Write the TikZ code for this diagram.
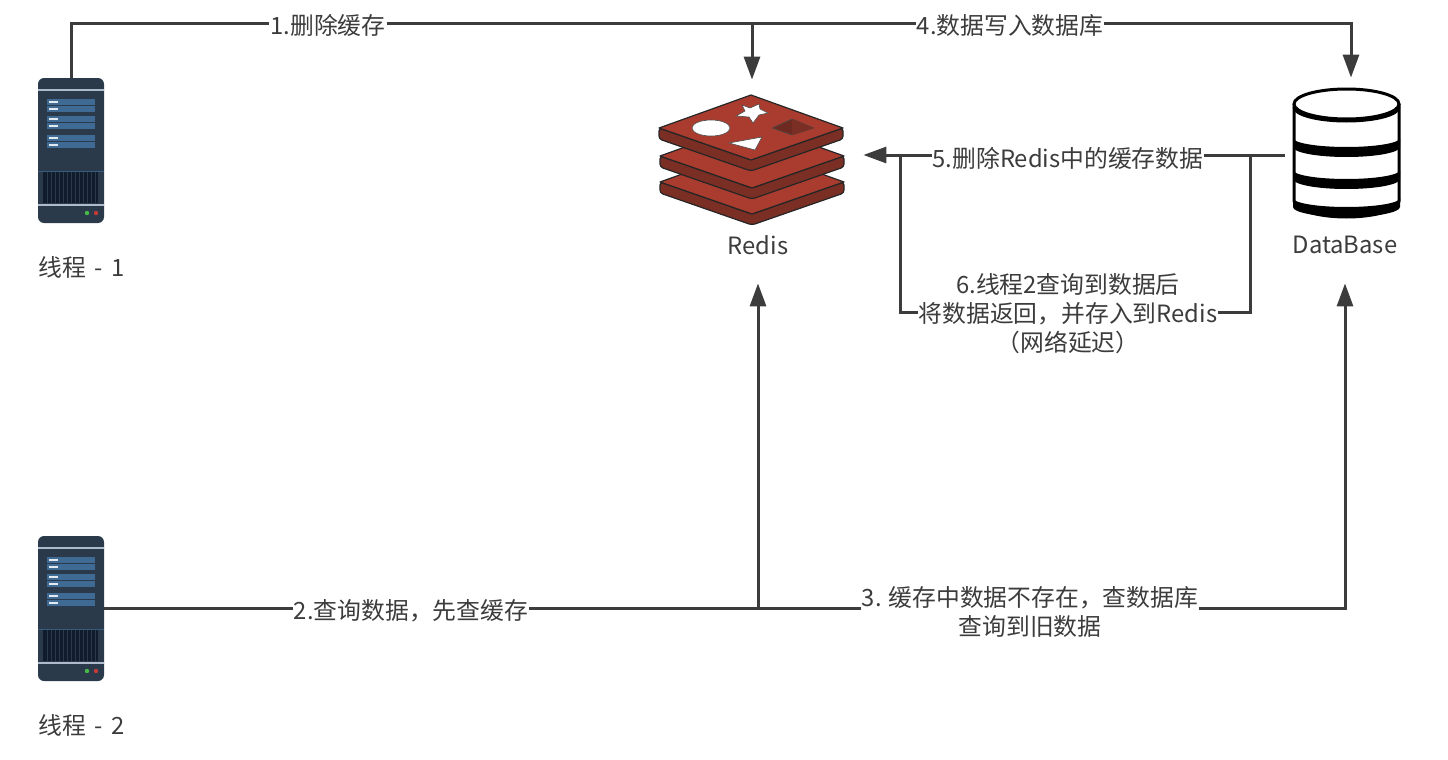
\documentclass[tikz,border=0pt]{standalone}
\usepackage{fontspec}
\setmainfont{Noto Sans CJK SC}
\usetikzlibrary{arrows.meta, backgrounds}

\definecolor{ink}{HTML}{3C3C3C}
\definecolor{serverbody}{HTML}{2B3A4B}
\definecolor{serverline}{HTML}{AEBBCB}
\definecolor{serverrow}{HTML}{3F6A94}
\definecolor{servervent}{HTML}{101C2B}
\definecolor{redisface}{HTML}{A93C2E}
\definecolor{redisside}{HTML}{7A2E24}
\definecolor{redisdark}{HTML}{6E2A20}

\tikzset{
	link/.style={draw=ink, line width=1.5pt},
	flow/.style={link, -{Triangle[length=11.5pt, width=8pt]}},
	lab/.style={fill=white, text=ink, font=\fontsize{11.9}{14.5}\selectfont,
		inner xsep=0.5pt, inner ysep=0pt, align=center},
	caption/.style={text=ink, font=\fontsize{11.9}{14.5}\selectfont\spaceskip 4.4pt\relax, inner sep=0},
	iconbox/.style={inner sep=0, minimum width=#1},
	pics/server/.style={code={
		\fill [serverbody, rounded corners=3pt] (0,0) rectangle (66,145);
		\fill [serverline] (0,11) rectangle (66,13);
		\fill [serverline] (0,126) rectangle (66,128);
		\fill [serverrow!70!serverbody] (0,93) rectangle (66,94);
		% Rows
		\foreach \y in {21,28,38,45,57,64}{
			\fill [serverrow] (9,\y) rectangle (57,\y+5.5);
			\fill [white!85!serverrow] (11,\y+2) rectangle (20,\y+3.5);
		}
		% Vents
		\fill [servervent] (5,94) rectangle (60,125);
		\foreach \x in {1,...,13}{
			\fill [serverbody] (5+\x*4,94) rectangle (6+\x*4,125);
		}
		% Lights
		\fill [green!45!gray] (49,135) circle [radius=2.2];
		\fill [red!55!gray] (58,135) circle [radius=2.2];
	}},
	pics/redislayer/.style={code={
		\fill [redisside, draw=black!85, line width=0.6pt, line join=round, rounded corners=1.5pt]
			(-92,0) -- (0,32) -- (92,0) -- (92,11) -- (0,43) -- (-92,11) -- cycle;
		\fill [redisface, draw=black!85, line width=0.6pt, line join=round]
			(-92,0) -- (0,-33) -- (92,0) -- (0,32) -- cycle;
	}},
}

\begin{document}
\begin{tikzpicture}[x=0.5pt, y=-0.5pt]
	\useasboundingbox (0,0) rectangle (1448,760);
	
	% Icon places
	\node (thread1) [iconbox=33pt, minimum height=72.5pt] at (71,150.5) {};
	\node (thread2) [iconbox=33pt, minimum height=72.5pt] at (71,608.5) {};
	\node (redis)   [iconbox=106pt, minimum height=101.5pt] at (757,181.5) {};
	\node (db)      [iconbox=60pt, minimum height=102.5pt] at (1345,180.5) {};
	
	% Captions
	\node (cap1) [caption, anchor=west] at (38,267) {线程 - 1};
	\node (cap2) [caption, anchor=west] at (38,725) {线程 - 2};
	\node (capredis) [caption] at (758,245) {Redis};
	\node (capdb) [caption] at (1345,245) {DataBase};
	
	% Labels
	\node (lab1) [lab] at (328,25) {1.删除缓存};
	\node (lab2) [lab] at (411,611) {2.查询数据，先查缓存};
	\node (lab3) [lab] at (1030,612) {3. 缓存中数据不存在，查数据库\\查询到旧数据};
	\node (lab4) [lab] at (1010,26) {4.数据写入数据库};
	\node (lab5) [lab] at (1068,158) {5.删除Redis中的缓存数据};
	\node (lab6) [lab] at (1068,314) {6.线程2查询到数据后\\将数据返回，并存入到Redis\\（网络延迟）};
	
	% Joins
	\coordinate (topjoin) at (752,23);
	\coordinate (lowjoin) at (758,608);
	\coordinate (backright) at (1250,155);
	\coordinate (backleft) at (900,155);
	\coordinate (backlow) at (1068,312);
	
	% Links
	\begin{scope}[on background layer]
		\draw [link] (thread1.north) |- (topjoin);
		\draw [flow] (topjoin) -- ([xshift=-2.5pt]redis.north);
		\draw [flow] (topjoin) -| ([xshift=3pt]db.north);
		\draw [flow] (thread2.east) -| ([xshift=0.5pt]redis.south);
		\draw [flow] (lowjoin) -| (db.south);
		\draw [flow] ([yshift=12.75pt]db.west) -- ([yshift=13.25pt]redis.east);
		\draw [link] (backright) |- (backlow) -| (backleft);
	\end{scope}
	
	% Servers
	\pic at (38,78) {server};
	\pic at (38,536) {server};
	
	% Redis
	\pic at (752,182) {redislayer};
	\pic at (752,156) {redislayer};
	\pic at (751,128) {redislayer};
	\fill [white, draw=black!70, line width=0.3pt] (711,128) ellipse [x radius=19, y radius=8];
	\fill [white, draw=black!70, line width=0.3pt]
		(759,104) -- (760,109) -- (768,113) -- (759,115) -- (753,123) --
		(749,117) -- (736,116) -- (745,111) -- (742,105) -- (750,108) -- cycle;
	\fill [white, draw=black!70, line width=0.3pt] (729,143) -- (762,137) -- (755,150) -- cycle;
	\fill [redisdark, draw=black!70, line width=0.3pt] (772,128) -- (792,119) -- (814,128) -- (792,135) -- cycle;
	\fill [redisside] (792,119) -- (814,128) -- (792,135) -- cycle;
	
	% Database
	\draw [black, line width=1.5pt, fill=white]
		(1294,104) -- (1294,201) arc [start angle=180, end angle=0, x radius=52.5, y radius=16] --
		(1399,104);
	\draw [black, line width=1.5pt, fill=white] (1346.5,104) ellipse [x radius=52.5, y radius=15];
	\draw [black, line width=1.5pt] (1294,107) arc [start angle=180, end angle=0, x radius=52.5, y radius=14];
	\foreach \y in {138,170,198}{
		\fill [black]
			(1293,\y) arc [start angle=180, end angle=0, x radius=53.5, y radius=9] --
			(1400,\y+9) arc [start angle=0, end angle=180, x radius=53.5, y radius=10] -- cycle;
	}
\end{tikzpicture}
\end{document}
